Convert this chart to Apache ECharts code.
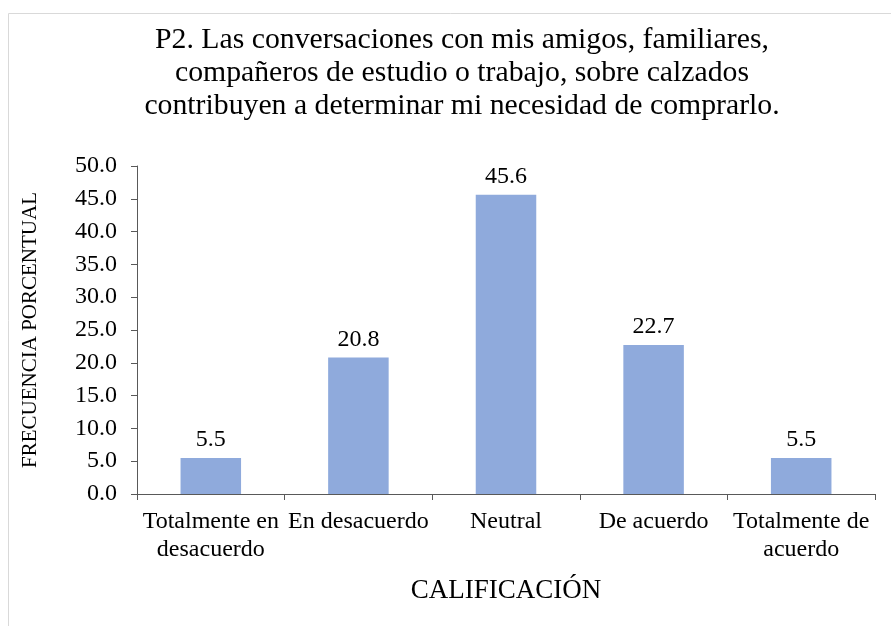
<!DOCTYPE html>
<html>
<head>
<meta charset="utf-8">
<script src="https://cdn.jsdelivr.net/npm/echarts@6/dist/echarts.min.js"></script>
<style>
  html, body { margin: 0; padding: 0; background: #fff; }
  #chart { width: 891px; height: 626px; }
</style>
</head>
<body>
<div id="chart"></div>
<script>
// categorias y valores (frecuencia porcentual)
const categorias = ['Totalmente en\ndesacuerdo', 'En desacuerdo', 'Neutral', 'De acuerdo', 'Totalmente de\nacuerdo']
const valores = [5.5, 20.8, 45.6, 22.7, 5.5]
const titulo = 'P2. Las conversaciones con mis amigos, familiares,\ncompañeros de estudio o trabajo, sobre calzados\ncontribuyen a determinar mi necesidad de comprarlo.'

const fuente = '"Liberation Serif", "Times New Roman", serif'
const chart = echarts.init(document.getElementById('chart'))

const option = {
    animation: false,
    textStyle: { fontFamily: fuente },
    title: {
        text: titulo,
        left: 457,
        textAlign: 'center',
        top: 19,
        textStyle: {
            fontFamily: fuente,
            fontSize: 29.75,
            fontWeight: 'normal',
            color: '#000',
            lineHeight: 33
        }
    },
    // marco del grafico
    graphic: [{
        type: 'rect',
        shape: { x: 8.5, y: 13.5, width: 900, height: 700 },
        style: { fill: 'none', stroke: '#d9d9d9', lineWidth: 1 }
    }],
    grid: {
        left: 137,
        right: 16,
        top: 166,
        bottom: 132
    },
    xAxis: {
        type: 'category',
        data: categorias,
        name: 'CALIFICACIÓN',
        nameLocation: 'middle',
        nameGap: 83,
        nameTextStyle: { fontFamily: fuente, fontSize: 27, color: '#000' },
        axisLine: { lineStyle: { color: '#595959', width: 1 } },
        axisTick: { show: true, alignWithLabel: false, length: 6, lineStyle: { color: '#595959' } },
        axisLabel: {
            interval: 0,
            fontFamily: fuente,
            fontSize: 24,
            color: '#000',
            lineHeight: 28,
            margin: 14
        }
    },
    yAxis: {
        type: 'value',
        min: 0,
        max: 50,
        interval: 5,
        name: 'FRECUENCIA PORCENTUAL',
        nameLocation: 'middle',
        nameGap: 96,
        nameTextStyle: { fontFamily: fuente, fontSize: 21, color: '#000' },
        axisLine: { show: true, lineStyle: { color: '#595959', width: 1 } },
        axisTick: { show: true, length: 6, lineStyle: { color: '#595959' } },
        splitLine: { show: false },
        axisLabel: {
            fontFamily: fuente,
            fontSize: 24,
            color: '#000',
            margin: 20,
            formatter: v => v.toFixed(1)
        }
    },
    series: [{
        type: 'bar',
        data: valores,
        barWidth: '41%',
        itemStyle: { color: '#8faadc' },
        label: {
            show: true,
            position: 'top',
            distance: 6,
            fontFamily: fuente,
            fontSize: 24,
            color: '#000',
            formatter: p => p.value.toFixed(1)
        }
    }]
}

chart.setOption(option)
</script>
</body>
</html>
